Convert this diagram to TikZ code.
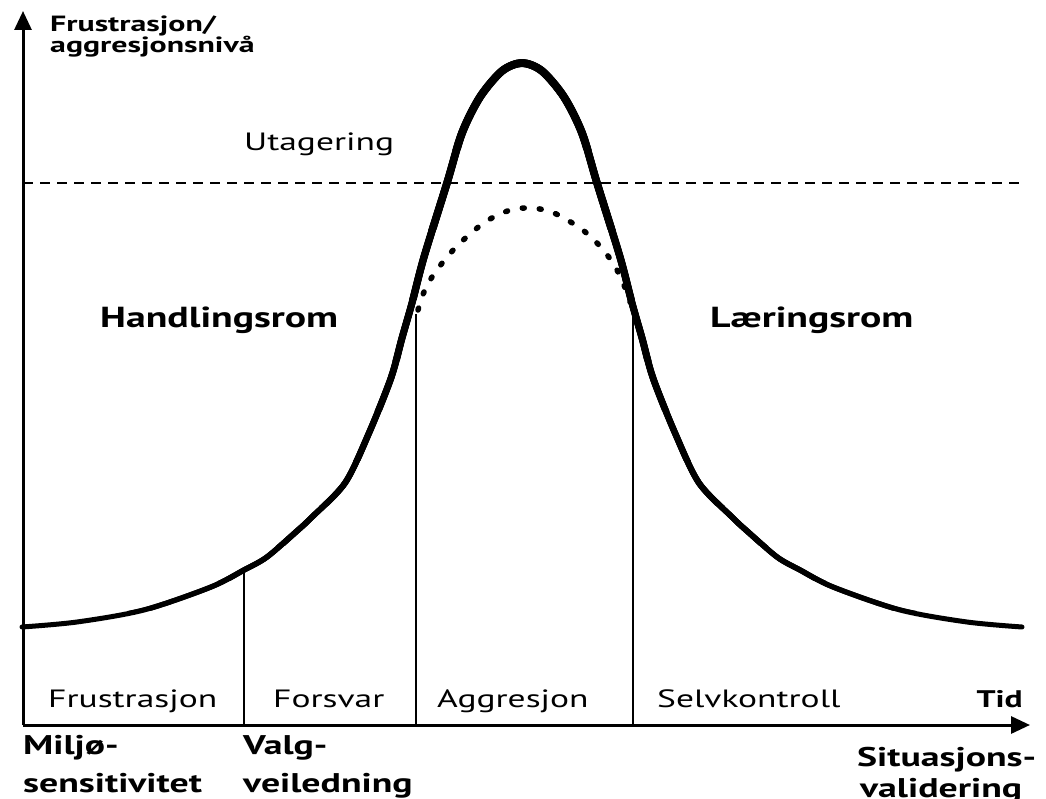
\documentclass[tikz,border=0pt]{standalone}
\usepackage{fontspec}
\setmainfont{PT Sans}
\newfontfamily\rgfont[FakeStretch=1.42]{PT Sans}
\newfontfamily\bdfont[FakeStretch=1.4]{PT Sans}
\newfontfamily\roomfont[FakeStretch=1.37]{PT Sans}
\newfontfamily\topfont[FakeStretch=1.45]{PT Sans}
\usetikzlibrary{arrows.meta}
\begin{document}
\begin{tikzpicture}[x=1pt,y=-1pt,
  axisline/.style={line width=3pt,-{Triangle[length=19pt,width=17pt]}},
  thinline/.style={line width=1.5pt},
  dashline/.style={line width=1.8pt,dash pattern=on 10pt off 7pt},
  dotline/.style={line width=5.5pt,dash pattern=on 2pt off 15pt,line cap=round},
  curveline/.style={line width=#1,line cap=round,line join=round},
  rglabel/.style={inner sep=0pt,anchor=base west,font=\rgfont\fontsize{25}{29}\selectfont},
  bdlabel/.style={inner sep=0pt,anchor=base west,font=\bdfont\bfseries\fontsize{27}{31}\selectfont},
  toplabel/.style={inner sep=0pt,anchor=base west,font=\topfont\bfseries\fontsize{22}{24}\selectfont},
  roomlabel/.style={inner sep=0pt,anchor=base west,font=\roomfont\bfseries\fontsize{29}{33}\selectfont}]
\useasboundingbox (0,0) rectangle (1046,799);

% axes
\coordinate (O) at (23,725);
\coordinate (ytip) at (23,11);
\coordinate (xtip) at (1030,725);
\draw[axisline] (O) -- (ytip);
\draw[axisline] (O) -- (xtip);

% threshold
\coordinate (dl) at (23,183);
\coordinate (dr) at (1026,183);
\draw[dashline] (dl) -- (dr);

% main curve (gradually thicker toward the peak)
\def\maincurve{plot[smooth] coordinates {
 (22,627) (77,622) (144,610) (211,587) (244,570) (267,557) (297,531) (311,518)
 (345,483) (369,433) (391,378) (402,338) (412,303) (424,257) (447,183) (462,133)
 (480,97) (502,71) (522,63) (542,71) (564,97) (582,133) (597,183) (620,257)
 (632,303) (642,338) (653,378) (675,433) (699,483) (733,518) (747,531) (777,557)
 (800,570) (833,587) (900,610) (967,622) (1022,627)}}
\draw[curveline=5pt] \maincurve;
\foreach \ylim/\wd in {610/5.3pt,580/5.6pt,545/5.9pt,505/6.2pt,460/6.5pt,410/6.8pt,360/7.1pt,300/7.4pt,230/7.7pt,150/8pt}{
  \begin{scope}
    \clip (0,0) rectangle (1046,\ylim);
    \draw[curveline=\wd] \maincurve;
  \end{scope}
}

% dotted lower peak
\draw[dotline] plot[smooth] coordinates {
 (418,310) (424,292) (432,277) (443,262) (456,247) (470,234) (485,222) (500,214)
 (514,209) (526,208) (540,209) (554,213) (569,221) (584,231) (597,243) (608,256)
 (617,270) (624,285) (630,302)};

% phase boundaries
\coordinate (c1) at (244,570);
\coordinate (c2) at (416,314);
\coordinate (c3) at (633,308);
\coordinate (a1) at (244,725);
\coordinate (a2) at (416,725);
\coordinate (a3) at (633,725);
\draw[thinline] (c1) -- (a1);
\draw[thinline] (c2) -- (a2);
\draw[thinline] (c3) -- (a3);

% labels
\node[toplabel] (ylab1) at (50,32) {Frustrasjon/};
\node[toplabel] (ylab2) at (50,53) {aggresjonsnivå};
\node[rglabel] (utag) at (244,151) {Utagering};
\node[roomlabel] (hand) at (100,327) {Handlingsrom};
\node[roomlabel] (laer) at (710,327) {Læringsrom};

\node[rglabel] (p1) at (48,707) {Frustrasjon};
\node[rglabel] (p2) at (273,707) {Forsvar};
\node[rglabel] (p3) at (437,707) {Aggresjon};
\node[rglabel] (p4) at (657,707) {Selvkontroll};
\node[inner sep=0pt,anchor=base east,font=\bdfont\bfseries\fontsize{24}{28}\selectfont] (tid) at (1023,707) {Tid};

\node[bdlabel] (m1) at (23,754) {Miljø-};
\node[bdlabel] (m2) at (23,792) {sensitivitet};
\node[bdlabel] (v1) at (243,754) {Valg-};
\node[bdlabel] (v2) at (243,792) {veiledning};
\node[bdlabel] (s1) at (857,766) {Situasjons-};
\node[bdlabel] (s2) at (860,797) {validering};
\end{tikzpicture}
\end{document}
